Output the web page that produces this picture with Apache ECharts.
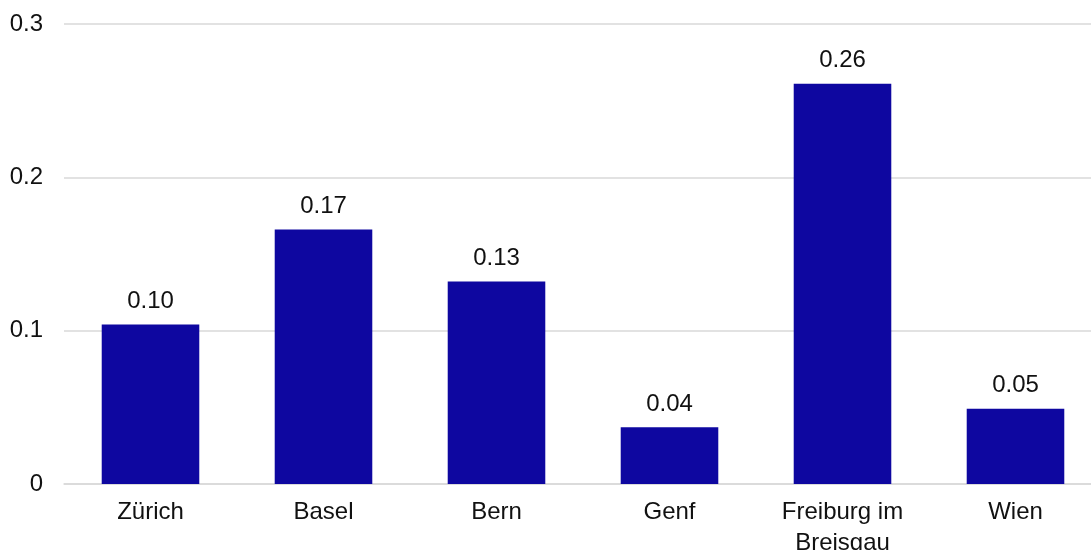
<!DOCTYPE html>
<html>
<head>
<meta charset="utf-8">
<script src="https://cdn.jsdelivr.net/npm/echarts@6/dist/echarts.min.js"></script>
<style>
  html, body { margin: 0; padding: 0; background: #fff; }
  #chart { width: 1091px; height: 550px; }
</style>
</head>
<body>
<div id="chart"></div>
<script>
// City categories and their values
const cities = ['Zürich', 'Basel', 'Bern', 'Genf', 'Freiburg im\nBreisgau', 'Wien'];
const values = [0.104, 0.166, 0.132, 0.037, 0.261, 0.049];
const yTicks = { min: 0, max: 0.3, interval: 0.1 };

const FONT = '"Liberation Sans", Arial, sans-serif';
const TEXT = '#111111';
const GRID = '#d9d9d9';
const BAR = '#0e07a0';

const chart = echarts.init(document.getElementById('chart'), null, { renderer: 'canvas' });

chart.setOption({
  animation: false,
  backgroundColor: '#ffffff',
  grid: {
    left: 64, right: -11, top: 24, bottom: 66,
    containLabel: false,
    outerBoundsMode: 'none'
  },
  xAxis: {
    type: 'category',
    data: cities,
    axisTick: { show: false },
    axisLine: { show: true, lineStyle: { color: GRID, width: 1.5 } },
    axisLabel: {
      color: TEXT,
      fontFamily: FONT,
      fontSize: 24,
      lineHeight: 31,
      margin: 13,
      interval: 0
    }
  },
  yAxis: {
    type: 'value',
    min: yTicks.min,
    max: yTicks.max,
    interval: yTicks.interval,
    axisLine: { show: false },
    axisTick: { show: false },
    splitLine: { lineStyle: { color: GRID, width: 1.5 } },
    axisLabel: {
      color: TEXT,
      fontFamily: FONT,
      fontSize: 24,
      margin: 21,
      formatter: v => (v === 0 ? '0' : v.toFixed(1))
    }
  },
  series: [{
    type: 'bar',
    data: values,
    barWidth: '56.4%',
    itemStyle: { color: BAR },
    label: {
      show: true,
      position: 'top',
      distance: 11,
      color: TEXT,
      fontFamily: FONT,
      fontSize: 24,
      formatter: p => p.value.toFixed(2)
    }
  }]
});
</script>
</body>
</html>
